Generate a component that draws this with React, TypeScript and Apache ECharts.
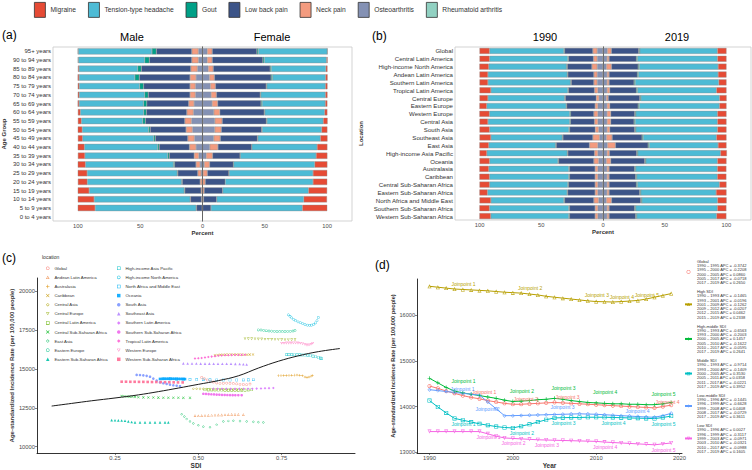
import React, { useEffect, useRef } from 'react';
import * as echarts from 'echarts';

const FONT = 'Liberation Sans, Arial, Helvetica, sans-serif';

// ---------- Panel (a) / (b) shared ----------
const diseases = ['Migraine', 'Tension-type headache', 'Gout', 'Low back pain', 'Neck pain', 'Osteoarthritis', 'Rheumatoid arthritis'];
const diseaseColors = ['#E64B35', '#4DBBD5', '#00A087', '#3C5488', '#F39B7F', '#8491B4', '#91D1C2'];

// ---------- Panel (a) ----------
const ageGroups = ['95+ years', '90 to 94 years', '85 to 89 years', '80 to 84 years', '75 to 79 years', '70 to 74 years', '65 to 69 years', '60 to 64 years', '55 to 59 years', '50 to 54 years', '45 to 49 years', '40 to 44 years', '35 to 39 years', '30 to 34 years', '25 to 29 years', '20 to 24 years', '15 to 19 years', '10 to 14 years', '5 to 9 years', '0 to 4 years'];
const maleMigraine = [0.3, 0.3, 0.8, 1.1, 1.1, 1.1, 1.1, 1.9, 2.7, 3.5, 3.7, 5.3, 5.6, 6.1, 7.5, 7.5, 9.1, 13.1, 13.9, 0];
const maleTTH = [59.2, 53.3, 47.2, 44.8, 48.5, 52.5, 51.7, 50.9, 49.3, 53.3, 57.1, 58.7, 66.4, 70.7, 72.3, 75.7, 76.3, 77.1, 81.1, 0];
const maleGout = [3.5, 3.7, 2.9, 3.5, 3.2, 2.9, 2.7, 2.1, 2.1, 1.3, 1.3, 1.3, 1.3, 0.8, 0.5, 0.5, 0.5, 0.3, 0.3, 0];
const maleLBP = [28.5, 34.1, 39.7, 40.8, 37.3, 33.6, 33.6, 32.5, 31.7, 28.8, 26.1, 24.3, 20.0, 17.3, 16.0, 14.4, 13.1, 8.8, 4.5, 0];
const maleNeck = [5.3, 5.3, 5.3, 4.8, 4.3, 4.3, 4.3, 5.3, 5.3, 5.1, 5.3, 5.3, 3.7, 3.2, 2.7, 1.6, 1.1, 0.8, 0.3, 0];
const maleOA = [3.2, 3.2, 4.0, 5.1, 5.6, 5.6, 6.7, 7.2, 8.8, 8.0, 6.4, 5.1, 2.9, 1.9, 1.1, 0.3, 0, 0, 0, 0];
const maleRA = [0.1, 0.1, 0.1, 0.1, 0.1, 0.1, 0.1, 0.1, 0.1, 0.1, 0.1, 0.1, 0.1, 0.1, 0, 0, 0, 0, 0, 0];
const femaleMigraine = [0.2, 0.8, 1.3, 1.6, 1.6, 1.6, 1.6, 2.1, 3.5, 4.5, 5.6, 8.2, 9.0, 10.1, 11.4, 11.4, 14.9, 18.6, 19.9, 0];
const femaleTTH = [55.4, 50.0, 43.9, 42.6, 47.1, 51.9, 50.8, 48.1, 45.2, 47.9, 50.3, 52.4, 60.9, 65.2, 67.4, 70.5, 68.9, 69.9, 73.4, 0];
const femaleGout = [1.1, 1.1, 0.8, 1.1, 0.5, 0.5, 0.8, 0.5, 0.5, 0.3, 0.3, 0.1, 0.1, 0.1, 0.1, 0, 0, 0, 0, 0];
const femaleLBP = [35.9, 40.7, 45.7, 45.5, 40.7, 35.1, 34.8, 35.6, 35.4, 32.4, 29.8, 27.1, 22.1, 19.1, 17.3, 16.0, 14.9, 10.6, 6.6, 0];
const femaleNeck = [4.0, 4.0, 4.0, 4.0, 4.0, 4.3, 4.5, 4.8, 5.9, 5.3, 5.3, 6.6, 5.1, 4.3, 3.5, 2.1, 1.3, 0.8, 0.2, 0];
const femaleOA = [3.5, 3.5, 4.3, 5.3, 6.1, 6.6, 7.4, 8.8, 9.6, 9.6, 8.8, 5.6, 2.9, 1.3, 0.3, 0.1, 0, 0, 0, 0];
const femaleRA = [0.3, 0.3, 0.3, 0.3, 0.3, 0.3, 0.3, 0.3, 0.3, 0.2, 0.2, 0.2, 0.1, 0.1, 0.1, 0, 0, 0, 0, 0];

// ---------- Panel (b) ----------
const locations = ['Global', 'Central Latin America', 'High-income North America', 'Andean Latin America', 'Southern Latin America', 'Tropical Latin America', 'Central Europe', 'Eastern Europe', 'Western Europe', 'Central Asia', 'South Asia', 'Southeast Asia', 'East Asia', 'High-income Asia Pacific', 'Oceania', 'Australasia', 'Caribbean', 'Central Sub-Saharan Africa', 'Eastern Sub-Saharan Africa', 'North Africa and Middle East', 'Southern Sub-Saharan Africa', 'Western Sub-Saharan Africa'];
const y1990Migraine = [8.1, 8.1, 7.6, 6.8, 6.8, 9.2, 6.8, 5.9, 8.1, 6.8, 8.1, 9.2, 7.6, 5.9, 8.1, 7.6, 8.1, 8.1, 6.5, 9.2, 8.1, 9.2];
const y1990TTH = [60.3, 63.5, 63.0, 64.3, 67.0, 62.4, 62.2, 64.4, 65.2, 66.4, 64.4, 57.9, 54.1, 65.2, 55.5, 64.9, 64.4, 63.5, 64.6, 59.2, 64.4, 63.3];
const y1990Gout = [0.5, 0.5, 0.6, 0.5, 0.5, 0.5, 0.5, 0.5, 0.6, 0.5, 0.5, 0.5, 0.5, 0.5, 0.5, 0.5, 0.5, 0.5, 0.5, 0.5, 0.5, 0.5];
const y1990LBP = [23.0, 20.3, 20.0, 21.1, 18.4, 21.1, 25.1, 23.0, 18.9, 19.5, 20.8, 24.3, 27.0, 21.6, 28.6, 20.8, 20.8, 21.6, 22.2, 23.8, 20.8, 20.8];
const y1990Neck = [3.5, 3.0, 4.3, 2.7, 2.7, 2.7, 2.2, 2.2, 3.2, 2.7, 2.7, 5.4, 6.8, 2.7, 3.8, 2.2, 2.2, 2.2, 2.2, 3.8, 2.2, 2.2];
const y1990OA = [4.6, 4.6, 4.6, 4.6, 4.6, 4.1, 3.2, 4.1, 4.1, 4.1, 3.5, 2.7, 4.1, 4.1, 3.5, 4.1, 4.1, 4.1, 4.1, 3.5, 4.1, 4.1];
const y1990RA = [0.1, 0.1, 0.1, 0.1, 0.1, 0.1, 0.1, 0.1, 0.1, 0.1, 0.1, 0.1, 0.1, 0.1, 0.1, 0.1, 0.1, 0.1, 0.1, 0.1, 0.1, 0.1];
const y2019Migraine = [7.3, 7.3, 6.8, 6.8, 6.2, 8.1, 5.7, 5.7, 7.3, 7.3, 7.3, 8.1, 6.8, 5.1, 7.3, 7.3, 7.3, 5.7, 8.4, 7.3, 7.3, 7.9];
const y2019TTH = [63.0, 64.9, 64.0, 64.6, 67.9, 64.1, 63.8, 65.1, 66.2, 66.8, 66.2, 59.5, 55.9, 67.1, 58.1, 66.2, 65.4, 66.5, 61.1, 61.4, 66.2, 64.8];
const y2019Gout = [0.8, 0.8, 0.8, 0.8, 0.8, 0.8, 0.8, 0.8, 0.8, 0.8, 0.8, 0.8, 0.8, 0.8, 0.8, 0.8, 0.8, 0.8, 0.8, 0.8, 0.8, 0.8];
const y2019LBP = [22.2, 22.2, 21.6, 23.0, 20.3, 21.6, 25.7, 23.0, 19.5, 18.9, 20.3, 24.3, 26.5, 22.2, 27.6, 20.8, 21.6, 22.2, 24.9, 23.8, 20.8, 21.6];
const y2019Neck = [3.2, 1.6, 4.1, 1.6, 1.6, 2.2, 1.4, 2.2, 3.0, 3.0, 2.2, 4.6, 6.5, 1.9, 3.5, 1.6, 1.6, 1.6, 1.6, 4.1, 1.6, 1.6];
const y2019OA = [3.5, 3.2, 2.7, 3.2, 3.2, 3.2, 2.7, 3.2, 3.2, 3.2, 3.2, 2.7, 3.5, 3.2, 2.7, 3.2, 3.2, 3.2, 3.2, 2.7, 3.2, 3.2];
const y2019RA = [0.1, 0.1, 0.1, 0.1, 0.1, 0.1, 0.1, 0.1, 0.1, 0.1, 0.1, 0.1, 0.1, 0.1, 0.1, 0.1, 0.1, 0.1, 0.1, 0.1, 0.1, 0.1];

const barTicks = [-100, -50, 0, 50, 100];

// ---------- Panel (c) ----------
const regionsC = ['Global', 'Andean Latin America', 'Australasia', 'Caribbean', 'Central Asia', 'Central Europe', 'Central Latin America', 'Central Sub-Saharan Africa', 'East Asia', 'Eastern Europe', 'Eastern Sub-Saharan Africa', 'High-income Asia Pacific', 'High-income North America', 'North Africa and Middle East', 'Oceania', 'South Asia', 'Southeast Asia', 'Southern Latin America', 'Southern Sub-Saharan Africa', 'Tropical Latin America', 'Western Europe', 'Western Sub-Saharan Africa'];
const cGlobal = [[0.510, 14450], [0.518, 14370], [0.527, 14290], [0.536, 14220], [0.545, 14160], [0.555, 14100], [0.565, 14070], [0.575, 14080], [0.585, 14090], [0.595, 14080], [0.605, 14060], [0.615, 14040], [0.625, 14020], [0.635, 14000], [0.645, 13990], [0.655, 14030]];
const cAndean = [[0.490, 11990], [0.500, 11980], [0.510, 11990], [0.520, 12000], [0.530, 12010], [0.540, 12020], [0.550, 12030], [0.560, 12040], [0.570, 12040], [0.580, 12050], [0.590, 12060], [0.600, 12070], [0.610, 12070], [0.620, 12070], [0.635, 12060]];
const cAustralasia = [[0.740, 14570], [0.748, 14575], [0.756, 14580], [0.764, 14585], [0.772, 14590], [0.780, 14600], [0.788, 14605], [0.796, 14610], [0.804, 14600], [0.812, 14560], [0.820, 14480], [0.826, 14450], [0.832, 14480], [0.838, 14540], [0.842, 14580]];
const cCaribbean = [[0.550, 15880], [0.558, 15900], [0.566, 15910], [0.574, 15920], [0.582, 15930], [0.590, 15935], [0.598, 15940], [0.606, 15940], [0.614, 15935], [0.622, 15930], [0.630, 15930], [0.638, 15920], [0.646, 15920], [0.654, 15925], [0.664, 15935]];
const cCentralAsia = [[0.485, 13730], [0.495, 13725], [0.505, 13720], [0.515, 13715], [0.525, 13710], [0.535, 13705], [0.545, 13700], [0.555, 13695], [0.565, 13690], [0.575, 13685], [0.585, 13680], [0.595, 13675], [0.605, 13670], [0.615, 13670], [0.630, 13680]];
const cCentralEurope = [[0.640, 16950], [0.650, 16945], [0.660, 16940], [0.670, 16935], [0.680, 16930], [0.690, 16925], [0.700, 16920], [0.710, 16915], [0.720, 16910], [0.730, 16905], [0.740, 16900], [0.750, 16895], [0.760, 16890], [0.770, 16885], [0.780, 16880], [0.790, 16880]];
const cCentralLatinAmerica = [[0.520, 13660], [0.530, 13655], [0.540, 13650], [0.550, 13648], [0.560, 13645], [0.570, 13642], [0.580, 13640], [0.590, 13640], [0.600, 13640], [0.610, 13638], [0.620, 13636], [0.630, 13635], [0.640, 13640], [0.650, 13650], [0.660, 13660]];
const cCentralSSA = [[0.270, 13250], [0.278, 13240], [0.286, 13230], [0.294, 13220], [0.302, 13210], [0.310, 13200], [0.320, 13180], [0.335, 13170], [0.350, 13160], [0.365, 13160], [0.380, 13155], [0.395, 13150], [0.410, 13150], [0.425, 13145], [0.440, 13145], [0.455, 13140], [0.475, 13140]];
const cEastAsia = [[0.450, 12080], [0.458, 11930], [0.465, 11770], [0.475, 11620], [0.485, 11490], [0.500, 11370], [0.515, 11280], [0.535, 11240], [0.555, 11400], [0.575, 11620], [0.590, 11650], [0.605, 11660], [0.625, 11640], [0.645, 11620], [0.665, 11590], [0.680, 11570], [0.695, 11555]];
const cEasternEurope = [[0.680, 17520], [0.688, 17515], [0.696, 17490], [0.704, 17470], [0.712, 17450], [0.720, 17440], [0.728, 17430], [0.736, 17420], [0.744, 17415], [0.752, 17415], [0.760, 17420], [0.768, 17425], [0.776, 17430], [0.784, 17450], [0.790, 17480]];
const cEasternSSA = [[0.240, 11700], [0.250, 11690], [0.260, 11685], [0.270, 11675], [0.280, 11665], [0.290, 11620], [0.300, 11580], [0.310, 11560], [0.325, 11555], [0.340, 11555], [0.355, 11555], [0.370, 11555], [0.385, 11555], [0.400, 11555], [0.410, 11555]];
const cHighIncomeAsiaPacific = [[0.765, 15930], [0.772, 15930], [0.780, 15925], [0.788, 15920], [0.796, 15915], [0.804, 15910], [0.812, 15905], [0.820, 15900], [0.828, 15890], [0.836, 15870], [0.844, 15830], [0.852, 15790], [0.860, 15740], [0.866, 15700], [0.870, 15680]];
const cHighIncomeNorthAmerica = [[0.770, 18490], [0.775, 18400], [0.780, 18300], [0.786, 18200], [0.792, 18110], [0.799, 18040], [0.806, 17990], [0.813, 17930], [0.820, 17870], [0.827, 17830], [0.834, 17820], [0.840, 17830], [0.846, 17880], [0.851, 17970], [0.856, 18120], [0.860, 18320]];
const cNorthAfricaMiddleEast = [[0.395, 14370], [0.415, 14360], [0.435, 14350], [0.455, 14340], [0.475, 14330], [0.495, 14320], [0.515, 14310], [0.535, 14300], [0.555, 14295], [0.575, 14290], [0.595, 14290], [0.615, 14290], [0.635, 14295], [0.650, 14300], [0.665, 14310]];
const cOceania = [[0.385, 14360], [0.392, 14365], [0.398, 14370], [0.404, 14370], [0.410, 14372], [0.416, 14372], [0.422, 14370], [0.428, 14368], [0.434, 14365], [0.440, 14362], [0.446, 14360], [0.452, 14358], [0.456, 14355], [0.460, 14350]];
const cSouthAsia = [[0.315, 14620], [0.325, 14610], [0.335, 14590], [0.345, 14560], [0.355, 14500], [0.365, 14380], [0.375, 14250], [0.385, 14130], [0.395, 14080], [0.405, 14040], [0.415, 13990], [0.425, 13950], [0.435, 13920], [0.445, 13890]];
const cSoutheastAsia = [[0.455, 15360], [0.468, 15355], [0.481, 15350], [0.494, 15350], [0.507, 15348], [0.520, 15346], [0.533, 15344], [0.546, 15342], [0.559, 15340], [0.572, 15338], [0.585, 15336], [0.598, 15334], [0.611, 15330], [0.624, 15320], [0.635, 15305], [0.645, 15290]];
const cSouthernLatinAmerica = [[0.545, 13730], [0.558, 13728], [0.571, 13726], [0.584, 13724], [0.597, 13722], [0.610, 13720], [0.623, 13722], [0.636, 13724], [0.649, 13726], [0.662, 13730], [0.675, 13735], [0.688, 13745], [0.700, 13755], [0.712, 13765], [0.725, 13775]];
const cSouthernSSA = [[0.515, 13400], [0.523, 13390], [0.531, 13380], [0.539, 13370], [0.547, 13360], [0.555, 13350], [0.563, 13340], [0.571, 13330], [0.579, 13325], [0.587, 13320], [0.595, 13315], [0.603, 13312], [0.611, 13310], [0.620, 13310], [0.630, 13310]];
const cTropicalLatinAmerica = [[0.490, 15680], [0.500, 15690], [0.510, 15710], [0.520, 15740], [0.530, 15770], [0.540, 15800], [0.550, 15830], [0.560, 15855], [0.570, 15875], [0.580, 15885], [0.590, 15890], [0.600, 15895], [0.610, 15900], [0.620, 15905], [0.630, 15910], [0.640, 15915]];
const cWesternEurope = [[0.750, 16660], [0.757, 16665], [0.764, 16670], [0.771, 16670], [0.778, 16670], [0.785, 16675], [0.792, 16675], [0.799, 16670], [0.806, 16660], [0.813, 16630], [0.820, 16580], [0.826, 16540], [0.832, 16550], [0.838, 16600], [0.843, 16660]];
const cWesternSSA = [[0.270, 14180], [0.283, 14180], [0.296, 14175], [0.309, 14175], [0.322, 14170], [0.335, 14170], [0.348, 14165], [0.361, 14160], [0.374, 14160], [0.387, 14155], [0.400, 14150], [0.413, 14145], [0.426, 14140], [0.439, 14135], [0.453, 14135]];
const cExpected = [[0.06, 12610], [0.12, 12780], [0.18, 12950], [0.25, 13130], [0.32, 13330], [0.38, 13540], [0.44, 13770], [0.50, 14010], [0.56, 14250], [0.62, 14560], [0.68, 15060], [0.74, 15500], [0.80, 15850], [0.86, 16120], [0.925, 16320]];
const pointsC = [cGlobal, cAndean, cAustralasia, cCaribbean, cCentralAsia, cCentralEurope, cCentralLatinAmerica, cCentralSSA, cEastAsia, cEasternEurope, cEasternSSA, cHighIncomeAsiaPacific, cHighIncomeNorthAmerica, cNorthAfricaMiddleEast, cOceania, cSouthAsia, cSoutheastAsia, cSouthernLatinAmerica, cSouthernSSA, cTropicalLatinAmerica, cWesternEurope, cWesternSSA];
const cYTicks = [10000, 12500, 15000, 17500, 20000];
const cXTicks = [0.25, 0.5, 0.75];

// ---------- Panel (d) ----------
const dGroups = ['Global', 'High SDI', 'High-middle SDI', 'Middle SDI', 'Low-middle SDI', 'Low SDI'];
const dYears = [1990, 1991, 1992, 1993, 1994, 1995, 1996, 1997, 1998, 1999, 2000, 2001, 2002, 2003, 2004, 2005, 2006, 2007, 2008, 2009, 2010, 2011, 2012, 2013, 2014, 2015, 2016, 2017, 2018, 2019];
const dGlobal = [14450, 14400, 14340, 14290, 14240, 14200, 14170, 14130, 14100, 14070, 14050, 14050, 14060, 14070, 14080, 14090, 14080, 14070, 14060, 14050, 14040, 14030, 14020, 14010, 14000, 13990, 13980, 13970, 14000, 14030];
const dHigh = [16640, 16620, 16600, 16580, 16570, 16560, 16550, 16540, 16525, 16510, 16500, 16490, 16470, 16450, 16420, 16400, 16380, 16360, 16340, 16320, 16305, 16300, 16295, 16305, 16315, 16330, 16360, 16400, 16440, 16480];
const dHighMiddle = [14620, 14520, 14420, 14340, 14300, 14270, 14240, 14210, 14180, 14140, 14110, 14120, 14130, 14150, 14160, 14180, 14160, 14130, 14110, 14090, 14080, 14070, 14060, 14060, 14050, 14050, 14040, 14040, 14060, 14090];
const dMiddle = [14130, 13990, 13860, 13740, 13700, 13660, 13620, 13590, 13560, 13540, 13530, 13570, 13610, 13660, 13710, 13750, 13755, 13760, 13760, 13765, 13765, 13765, 13760, 13755, 13750, 13745, 13740, 13735, 13760, 13790];
const dLowMiddle = [14370, 14350, 14330, 14310, 14290, 14270, 14250, 14100, 13950, 13800, 13800, 13805, 13810, 13815, 13820, 13825, 13830, 13835, 13840, 13835, 13830, 13820, 13810, 13800, 13790, 13780, 13770, 13765, 13800, 13850];
const dLow = [13450, 13450, 13450, 13450, 13450, 13450, 13450, 13400, 13350, 13310, 13300, 13290, 13280, 13270, 13265, 13260, 13255, 13250, 13245, 13240, 13235, 13220, 13210, 13200, 13190, 13180, 13170, 13160, 13180, 13200];
const dSegGlobal = [[1990, 1995, -0.3742], [1995, 2000, -0.2208], [2000, 2005, 0.0860], [2005, 2017, -0.0718], [2017, 2019, 0.2650]];
const dSegHigh = [[1990, 1993, -0.1465], [1993, 2001, -0.0196], [2001, 2009, -0.1262], [2009, 2012, -0.0207], [2012, 2015, 0.0462], [2015, 2019, 0.2338]];
const dSegHighMiddle = [[1990, 1993, -0.6563], [1993, 2000, -0.2003], [2000, 2005, 0.1457], [2005, 2010, -0.1622], [2010, 2017, -0.0595], [2017, 2019, 0.2641]];
const dSegMiddle = [[1990, 1993, -0.9714], [1993, 2000, -0.1409], [2000, 2005, 0.3530], [2005, 2011, 0.0358], [2011, 2017, -0.0221], [2017, 2019, 0.3952]];
const dSegLowMiddle = [[1990, 1996, -0.1445], [1996, 1999, -0.6628], [1999, 2008, 0.0408], [2008, 2017, -0.0729], [2017, 2019, 0.3611]];
const dSegLow = [[1990, 1996, 0.0027], [1996, 1999, -0.3117], [1999, 2003, -0.0971], [2003, 2010, -0.0321], [2010, 2017, -0.0988], [2017, 2019, 0.1605]];
const dValues = [dGlobal, dHigh, dHighMiddle, dMiddle, dLowMiddle, dLow];
const dSegments = [dSegGlobal, dSegHigh, dSegHighMiddle, dSegMiddle, dSegLowMiddle, dSegLow];
const dYTicks = [13000, 14000, 15000, 16000];
const dXTicks = [1990, 2000, 2010, 2020];

// ---------- styling helpers ----------
function polyPts(n: number, rot: number): number[][] {
  const out: number[][] = [];
  for (let i = 0; i < n; i++) {
    const a = rot + (2 * Math.PI * i) / n;
    out.push([5 + 5 * Math.sin(a), 5 - 5 * Math.cos(a)]);
  }
  return out;
}
function ringPath(outer: number[][], t = 0.34): string {
  const cx = outer.reduce((s, p) => s + p[0], 0) / outer.length;
  const cy = outer.reduce((s, p) => s + p[1], 0) / outer.length;
  const inner = outer.map(([x, y]) => [cx + (x - cx) * (1 - t), cy + (y - cy) * (1 - t)]).reverse();
  const p = (pts: number[][]) => 'M' + pts.map((q) => q[0].toFixed(2) + ',' + q[1].toFixed(2)).join('L') + 'Z';
  return 'path://' + p(outer) + p(inner);
}
const PLUS = 'path://M4.2,0H5.8V4.2H10V5.8H5.8V10H4.2V5.8H0V4.2H4.2Z';
const CROSS = 'path://M1.1,0L5,3.9L8.9,0L10,1.1L6.1,5L10,8.9L8.9,10L5,6.1L1.1,10L0,8.9L3.9,5L0,1.1Z';
const RING_CIRCLE = ringPath(polyPts(16, 0), 0.3);
const RING_TRI = ringPath([[5, 0], [10, 9], [0, 9]], 0.42);
const RING_TRI_DOWN = ringPath([[0, 1], [10, 1], [5, 10]], 0.42);
const RING_SQUARE = ringPath([[0, 0], [10, 0], [10, 10], [0, 10]], 0.3);
const RING_DIAMOND = ringPath([[5, 0], [10, 5], [5, 10], [0, 5]], 0.36);

const dColors = ['#F8766D', '#B79F00', '#00BA38', '#00BFC4', '#619CFF', '#F564E3'];
const dSymbols = [RING_CIRCLE, RING_TRI, PLUS, RING_SQUARE, RING_DIAMOND, RING_TRI_DOWN];
const dLabelPos = ['top', 'top', 'top', 'bottom', 'top', 'bottom'];
const dLabelOffset = [[13, 0], [9, 0], [9, -5], [9, 0], [-17, -1], [9, 0]];
const cSymbols = [
  RING_CIRCLE, RING_TRI, PLUS, CROSS, RING_DIAMOND, RING_TRI_DOWN,
  RING_SQUARE, CROSS, RING_DIAMOND, RING_CIRCLE, 'triangle', RING_SQUARE,
  RING_CIRCLE, RING_SQUARE, 'rect', 'circle', 'triangle', 'diamond',
  'circle', 'diamond', RING_TRI_DOWN, 'rect',
];

function hcl(h: number, c: number, l: number): string {
  const hr = (h * Math.PI) / 180;
  const U = c * Math.cos(hr);
  const V = c * Math.sin(hr);
  const Xn = 95.047, Yn = 100, Zn = 108.883;
  const den = Xn + 15 * Yn + 3 * Zn;
  const un = (4 * Xn) / den, vn = (9 * Yn) / den;
  const Y = l > 8 ? Yn * Math.pow((l + 16) / 116, 3) : (Yn * l) / 903.3;
  const u = U / (13 * l) + un;
  const v = V / (13 * l) + vn;
  const X = (9 * Y * u) / (4 * v);
  const Z = -X / 3 - 5 * Y + (3 * Y) / v;
  const x = X / 100, y = Y / 100, z = Z / 100;
  const lin = [
    3.240479 * x - 1.53715 * y - 0.498535 * z,
    -0.969256 * x + 1.875992 * y + 0.041556 * z,
    0.055648 * x - 0.204043 * y + 1.057311 * z,
  ];
  return '#' + lin.map((t) => {
    let g = t <= 0.0031308 ? 12.92 * t : 1.055 * Math.pow(t, 1 / 2.4) - 0.055;
    g = Math.max(0, Math.min(1, g));
    return Math.round(g * 255).toString(16).padStart(2, '0');
  }).join('');
}

const cColors = regionsC.map((_, i) => hcl(15 + (360 * i) / regionsC.length, 100, 65));

const stackOrder = [6, 5, 4, 3, 2, 1, 0];

function barSeries(stack: string, idx: number, leftArrs: number[][], rightArrs: number[][], barWidth: string) {
  const out: any[] = [];
  const mk = (k: number, arr: number[], sign: number) => ({
    type: 'bar',
    name: diseases[k],
    xAxisIndex: idx,
    yAxisIndex: idx,
    stack,
    barWidth,
    silent: true,
    data: arr.map((v) => (v > 0 ? sign * v : null)),
    itemStyle: { color: diseaseColors[k], borderColor: '#8e8e8e', borderWidth: 0.4 },
  });
  stackOrder.forEach((k) => out.push(mk(k, leftArrs[k], -1)));
  stackOrder.forEach((k) => out.push(mk(k, rightArrs[k], 1)));
  out[out.length - 1].markLine = {
    silent: true,
    symbol: ['none', 'none'],
    label: { show: false },
    lineStyle: { color: '#6b6b6b', width: 0.9, type: 'solid' },
    data: [{ xAxis: 0 }],
  };
  return out;
}

const axisLineStyle = { lineStyle: { color: '#000', width: 0.8 } };
const axisTickStyle = { length: 2, lineStyle: { color: '#333', width: 0.6 } };
const plain = (v: number) => String(v);

export default function App() {
  const ref = useRef<HTMLDivElement>(null);
  useEffect(() => {
    if (!ref.current) return;
    const chart = echarts.init(ref.current, null, { renderer: 'svg', width: 752, height: 470 });

    const maleArrs = [maleMigraine, maleTTH, maleGout, maleLBP, maleNeck, maleOA, maleRA];
    const femaleArrs = [femaleMigraine, femaleTTH, femaleGout, femaleLBP, femaleNeck, femaleOA, femaleRA];
    const arr1990 = [y1990Migraine, y1990TTH, y1990Gout, y1990LBP, y1990Neck, y1990OA, y1990RA];
    const arr2019 = [y2019Migraine, y2019TTH, y2019Gout, y2019LBP, y2019Neck, y2019OA, y2019RA];

    const series: any[] = [
      ...barSeries('a', 0, maleArrs, femaleArrs, '72%'),
      ...barSeries('b', 1, arr1990, arr2019, '76%'),
    ];

    regionsC.forEach((name, i) => {
      series.push({
        type: 'scatter',
        name,
        xAxisIndex: 2,
        yAxisIndex: 2,
        data: pointsC[i],
        symbol: cSymbols[i],
        symbolSize: 2.6,
        silent: true,
        itemStyle: { color: cColors[i], opacity: 0.9 },
      });
    });
    series.push({
      type: 'line',
      name: 'expected',
      xAxisIndex: 2,
      yAxisIndex: 2,
      data: cExpected,
      smooth: 0.4,
      showSymbol: false,
      silent: true,
      lineStyle: { color: '#1a1a1a', width: 1 },
      z: 5,
    });

    dGroups.forEach((name, g) => {
      const jp = dSegments[g].slice(0, -1).map((s) => s[1]);
      const color = dColors[g];
      series.push({
        type: 'line',
        name,
        xAxisIndex: 3,
        yAxisIndex: 3,
        symbol: dSymbols[g],
        symbolSize: 4,
        showAllSymbol: true,
        silent: true,
        color,
        lineStyle: { width: 1, color },
        itemStyle: { color },
        data: dYears.map((yr, k) => {
          const j = jp.indexOf(yr);
          if (j < 0) return [yr, dValues[g][k]];
          return {
            value: [yr, dValues[g][k]],
            label: {
              show: true,
              formatter: `Joinpoint ${j + 1}`,
              position: dLabelPos[g],
              distance: 1,
              offset: dLabelOffset[g],
              fontSize: 5,
              color,
              fontFamily: FONT,
            },
          };
        }),
      });
    });

    const segText = (segs: number[][]) =>
      segs.map((s) => `${s[0]} \u2013 ${s[1]} APC = ${s[2] < 0 ? '-' : ''}${Math.abs(s[2]).toFixed(4)}`);

    const textBase = { fontFamily: FONT, color: '#333' };

    const option: any = {
      animation: false,
      backgroundColor: '#fff',
      textStyle: { fontFamily: FONT },
      grid: [
        { left: 53, top: 47, width: 299, height: 174, show: true, borderColor: '#c8c8c8', borderWidth: 0.8 },
        { left: 455, top: 47, width: 296, height: 173, show: true, borderColor: '#c8c8c8', borderWidth: 0.8 },
        { left: 37, top: 278, width: 318, height: 178 },
        { left: 417, top: 279, width: 265, height: 176 },
      ],
      xAxis: [
        {
          gridIndex: 0, type: 'value', min: -120, max: 120,
          splitLine: { show: false }, axisLine: axisLineStyle,
          axisTick: { ...axisTickStyle, customValues: barTicks },
          axisLabel: { customValues: barTicks, formatter: (v: number) => String(Math.abs(v)), fontSize: 5.8, color: '#4d4d4d', margin: 2, fontFamily: FONT },
          name: 'Percent', nameLocation: 'middle', nameGap: 9,
          nameTextStyle: { fontSize: 6, fontWeight: 'bold', ...textBase },
        },
        {
          gridIndex: 1, type: 'value', min: -120, max: 120,
          splitLine: { show: false }, axisLine: axisLineStyle,
          axisTick: { ...axisTickStyle, customValues: barTicks },
          axisLabel: { customValues: barTicks, formatter: (v: number) => String(Math.abs(v)), fontSize: 5.8, color: '#4d4d4d', margin: 2, fontFamily: FONT },
          name: 'Percent', nameLocation: 'middle', nameGap: 9,
          nameTextStyle: { fontSize: 6, fontWeight: 'bold', ...textBase },
        },
        {
          gridIndex: 2, type: 'value', min: 0.016, max: 0.97,
          splitLine: { show: false }, axisLine: axisLineStyle,
          axisTick: { ...axisTickStyle, customValues: cXTicks },
          axisLabel: { customValues: cXTicks, formatter: (v: number) => v.toFixed(2), fontSize: 5.8, color: '#4d4d4d', margin: 2, fontFamily: FONT },
          name: 'SDI', nameLocation: 'middle', nameGap: 8,
          nameTextStyle: { fontSize: 6.5, fontWeight: 'bold', ...textBase },
        },
        {
          gridIndex: 3, type: 'value', min: 1988.5, max: 2020.3,
          splitLine: { show: false }, axisLine: axisLineStyle,
          axisTick: { ...axisTickStyle, customValues: dXTicks },
          axisLabel: { customValues: dXTicks, formatter: plain, fontSize: 5.8, color: '#4d4d4d', margin: 2, fontFamily: FONT },
          name: 'Year', nameLocation: 'middle', nameGap: 9,
          nameTextStyle: { fontSize: 6.5, fontWeight: 'bold', ...textBase },
        },
      ],
      yAxis: [
        {
          gridIndex: 0, type: 'category', inverse: true, data: ageGroups,
          axisLine: axisLineStyle, axisTick: { ...axisTickStyle, alignWithLabel: true },
          axisLabel: { fontSize: 6, color: '#333', margin: 2, fontFamily: FONT },
          name: 'Age Group', nameLocation: 'middle', nameRotate: 90, nameGap: 46,
          nameTextStyle: { fontSize: 6, fontWeight: 'bold', ...textBase },
        },
        {
          gridIndex: 1, type: 'category', inverse: true, data: locations,
          axisLine: axisLineStyle, axisTick: { ...axisTickStyle, alignWithLabel: true },
          axisLabel: { fontSize: 6.1, color: '#333', margin: 2, fontFamily: FONT },
          name: 'Location', nameLocation: 'middle', nameRotate: 90, nameGap: 91,
          nameTextStyle: { fontSize: 6, fontWeight: 'bold', ...textBase },
        },
        {
          gridIndex: 2, type: 'value', min: 9575, max: 20870,
          splitLine: { show: false }, axisLine: axisLineStyle,
          axisTick: { ...axisTickStyle, customValues: cYTicks },
          axisLabel: { customValues: cYTicks, formatter: plain, fontSize: 5.8, color: '#4d4d4d', margin: 2, fontFamily: FONT },
          name: 'Age-standardized Incidence Rate (per 100,000 people)', nameLocation: 'middle', nameRotate: 90, nameGap: 22,
          nameTextStyle: { fontSize: 6, fontWeight: 'bold', ...textBase },
        },
        {
          gridIndex: 3, type: 'value', min: 12980, max: 16800,
          splitLine: { show: false }, axisLine: axisLineStyle,
          axisTick: { ...axisTickStyle, customValues: dYTicks },
          axisLabel: { customValues: dYTicks, formatter: plain, fontSize: 5.6, color: '#4d4d4d', margin: 2, fontFamily: FONT },
          name: 'Age-standardized Incidence Rate (per 100,000 people)', nameLocation: 'middle', nameRotate: 90, nameGap: 21,
          nameTextStyle: { fontSize: 5.6, fontWeight: 'bold', ...textBase },
        },
      ],
      legend: [
        {
          data: diseases, left: 34, top: 2, padding: 0, itemWidth: 11, itemHeight: 15, itemGap: 12,
          icon: 'rect', selectedMode: false,
          itemStyle: { borderColor: '#333', borderWidth: 0.8 },
          textStyle: { fontSize: 6.7, ...textBase },
        },
        {
          data: regionsC.slice(0, 11), orient: 'vertical', left: 46, top: 266.3, padding: 0,
          itemWidth: 3.5, itemHeight: 3.5, itemGap: 5.1, selectedMode: false,
          textStyle: { fontSize: 4.3, ...textBase },
        },
        {
          data: regionsC.slice(11), orient: 'vertical', left: 117, top: 266.3, padding: 0,
          itemWidth: 3.5, itemHeight: 3.5, itemGap: 5.1, selectedMode: false,
          textStyle: { fontSize: 4.3, ...textBase },
        },
        {
          data: dGroups, orient: 'vertical', left: 684, top: 259, padding: 0,
          itemWidth: 7, itemHeight: 4, itemGap: 4.5, selectedMode: false,
          formatter: (name: string) => [name, ...segText(dSegments[dGroups.indexOf(name)])].join('\n'),
          textStyle: { fontSize: 4, lineHeight: 4.3, ...textBase },
        },
      ],
      graphic: [
        { type: 'text', x: 2, y: 35, style: { text: '(a)', fontSize: 12, fill: '#000', fontFamily: FONT, verticalAlign: 'middle' } },
        { type: 'text', x: 132, y: 37, style: { text: 'Male', fontSize: 11, fill: '#000', fontFamily: FONT, align: 'center', verticalAlign: 'middle' } },
        { type: 'text', x: 272, y: 37, style: { text: 'Female', fontSize: 11, fill: '#000', fontFamily: FONT, align: 'center', verticalAlign: 'middle' } },
        { type: 'text', x: 372, y: 36, style: { text: '(b)', fontSize: 12, fill: '#000', fontFamily: FONT, verticalAlign: 'middle' } },
        { type: 'text', x: 545, y: 37, style: { text: '1990', fontSize: 11, fill: '#000', fontFamily: FONT, align: 'center', verticalAlign: 'middle' } },
        { type: 'text', x: 677, y: 37, style: { text: '2019', fontSize: 11, fill: '#000', fontFamily: FONT, align: 'center', verticalAlign: 'middle' } },
        { type: 'text', x: 2, y: 258, style: { text: '(c)', fontSize: 12, fill: '#000', fontFamily: FONT, verticalAlign: 'middle' } },
        { type: 'text', x: 375, y: 265, style: { text: '(d)', fontSize: 12, fill: '#000', fontFamily: FONT, verticalAlign: 'middle' } },
        { type: 'text', x: 42, y: 257, style: { text: 'location', fontSize: 5, fill: '#333', fontFamily: FONT, verticalAlign: 'middle' } },
      ],
      series,
    };

    chart.setOption(option);
    return () => chart.dispose();
  }, []);

  return (
    <div
      ref={ref}
      style={{ position: 'absolute', left: 0, top: 0, width: 752, height: 470, background: '#fff' }}
    />
  );
}
